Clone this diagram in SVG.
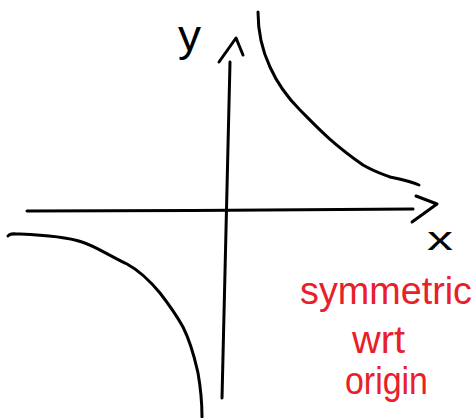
<svg xmlns="http://www.w3.org/2000/svg" width="475" height="418" viewBox="0 0 475 418">
<style>
.ink{fill:none;stroke:#000;stroke-width:3;stroke-linecap:round;stroke-linejoin:round}
.lbl{font-family:"Liberation Sans",Arial,sans-serif;fill:#000}
.red{font-family:"Liberation Sans",Arial,sans-serif;fill:#e8202a;font-size:38px}
</style>
<rect width="475" height="418" fill="#fff"/>
<g id="axes">
<path class="ink" d="M27,211 C150,211 300,210 413,209"/>
<path class="ink" d="M416,196 L437,204 L412,222"/>
<path class="ink" d="M222,398 C224,300 227,200 230,62"/>
<path class="ink" d="M219,62 L236,38 L243,55"/>
</g>
<g id="curves">
<path class="ink" d="M8,236 C10,233 14,234 20,234 C45,235 70,238 82,242 C95,246 110,256 127,264 C140,271 150,281 160,293 C170,306 178,318 183,327 C192,345 195,360 198,373 C201,390 202,405 202,417"/>
<path class="ink" d="M258,12 C258,30 262,50 270,67 C278,85 290,100 300,110 C315,125 330,142 363,165 C375,172 385,175 390,177 C400,179 410,181 419,185"/>
</g>
<g id="labels">
<text class="lbl" x="178" y="51" font-size="44" textLength="23" lengthAdjust="spacingAndGlyphs">y</text>
<text class="lbl" x="427" y="250" font-size="34" textLength="26" lengthAdjust="spacingAndGlyphs">x</text>
<text class="red" x="300" y="304" textLength="172" lengthAdjust="spacingAndGlyphs">symmetric</text>
<text class="red" x="352" y="353" textLength="53" lengthAdjust="spacingAndGlyphs">wrt</text>
<text class="red" x="345" y="394" textLength="83" lengthAdjust="spacingAndGlyphs">origin</text>
</g>
</svg>
